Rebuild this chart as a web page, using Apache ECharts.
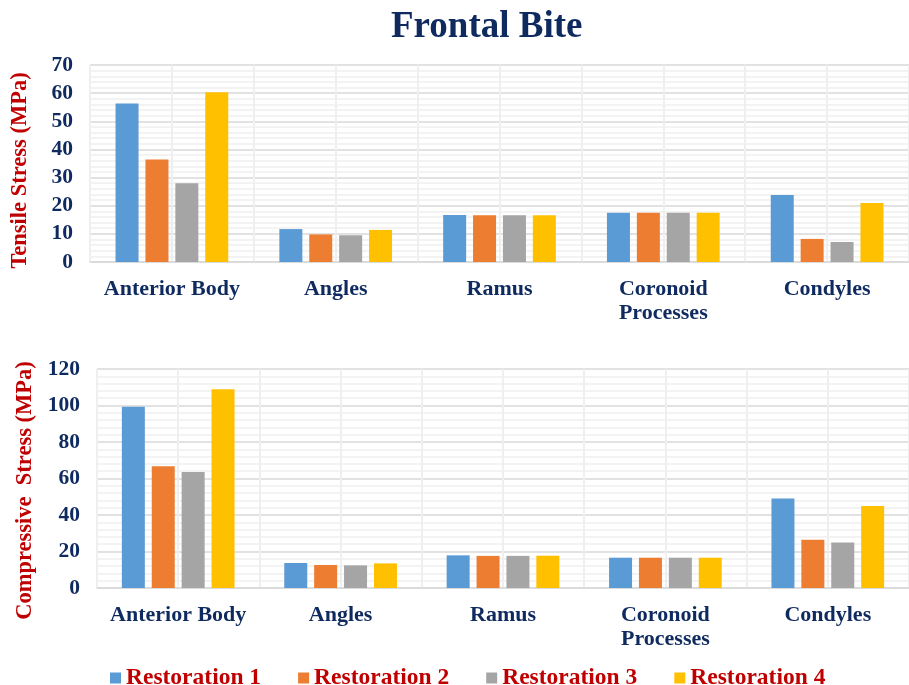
<!DOCTYPE html>
<html>
<head>
<meta charset="utf-8">
<script src="https://cdn.jsdelivr.net/npm/echarts@6/dist/echarts.min.js"></script>
<style>
  html, body { margin: 0; padding: 0; background: #fff; }
  #chart { width: 909px; height: 685px; }
</style>
</head>
<body>
<div id="chart"></div>
<script>
// Regions of the mandible
const regions = ['Anterior Body', 'Angles', 'Ramus', 'Coronoid\nProcesses', 'Condyles'];
const seriesNames = ['Restoration 1', 'Restoration 2', 'Restoration 3', 'Restoration 4'];
const colors = ['#5b9bd5', '#ed7d31', '#a5a5a5', '#ffc000'];

// Tensile stress (MPa) per restoration, in region order
const tensile1 = [56.3, 11.7, 16.7, 17.5, 23.8];
const tensile2 = [36.4, 9.8, 16.6, 17.5, 8.2];
const tensile3 = [28.0, 9.5, 16.6, 17.5, 7.1];
const tensile4 = [60.3, 11.4, 16.6, 17.5, 21.0];

// Compressive stress (MPa) per restoration, in region order
const compressive1 = [99.3, 13.7, 17.9, 16.6, 49.1];
const compressive2 = [66.7, 12.6, 17.6, 16.6, 26.5];
const compressive3 = [63.6, 12.4, 17.6, 16.6, 24.9];
const compressive4 = [108.9, 13.5, 17.7, 16.6, 44.9];

const tensileSets = [tensile1, tensile2, tensile3, tensile4];
const compressiveSets = [compressive1, compressive2, compressive3, compressive4];

const FONT = 'Liberation Serif';
const NAVY = '#0e2a5f';
const RED = '#c00000';

const chart = echarts.init(document.getElementById('chart'), null, { renderer: 'canvas' });

function categoryAxis(gridIndex) {
  return {
    type: 'category', gridIndex, data: regions,
    axisLine: { lineStyle: { color: '#d9d9d9', width: 1.5 } },
    axisTick: { show: false },
    splitLine: { show: false },
    axisLabel: {
      interval: 0, margin: 15, color: NAVY, fontFamily: FONT,
      fontWeight: 'bold', fontSize: 22, lineHeight: 24
    }
  };
}

// Helper axis that draws the vertical lines at half-category steps
function halfStepAxis(gridIndex) {
  return {
    type: 'value', gridIndex, min: 0, max: 10, interval: 1, position: 'top',
    axisLine: { show: false }, axisTick: { show: false }, axisLabel: { show: false },
    splitLine: { show: true, lineStyle: { color: '#efefef', width: 2 } }
  };
}

function valueAxis(gridIndex, max, interval, name, namePad) {
  return {
    type: 'value', gridIndex, min: 0, max, interval,
    name, nameLocation: 'middle', nameGap: 58,
    nameTextStyle: { color: RED, fontFamily: FONT, fontWeight: 'bold', fontSize: 22.5, padding: namePad },
    axisLine: { show: false }, axisTick: { show: false },
    axisLabel: { color: NAVY, fontFamily: FONT, fontWeight: 'bold', fontSize: 21.5, margin: 17 },
    splitLine: { show: true, lineStyle: { color: '#d9d9d9', width: 1.5 } },
    minorTick: { show: false, splitNumber: 5 },
    minorSplitLine: { show: true, lineStyle: { color: '#f0f0f0', width: 1.5 } }
  };
}

const series = [];
seriesNames.forEach((name, i) => {
  series.push({
    name, type: 'bar', xAxisIndex: 0, yAxisIndex: 0, data: tensileSets[i],
    barWidth: 23, barGap: '30%', itemStyle: { color: colors[i] }, z: 3
  });
});
seriesNames.forEach((name, i) => {
  series.push({
    name, type: 'bar', xAxisIndex: 1, yAxisIndex: 1, data: compressiveSets[i],
    barWidth: 23, barGap: '30%', itemStyle: { color: colors[i] }, z: 3
  });
});

chart.setOption({
  animation: false,
  backgroundColor: '#ffffff',
  color: colors,
  title: {
    text: 'Frontal Bite', left: 386, top: 4,
    textStyle: { color: NAVY, fontFamily: FONT, fontWeight: 'bold', fontSize: 37 }
  },
  legend: {
    data: seriesNames, left: 105, top: 661, itemWidth: 11, itemHeight: 11, itemGap: 37,
    icon: 'rect',
    textStyle: { color: RED, fontFamily: FONT, fontWeight: 'bold', fontSize: 23.5 }
  },
  grid: [
    { left: 90, right: -3, top: 65, height: 197 },
    { left: 97, right: -11, top: 369, height: 219 }
  ],
  xAxis: [categoryAxis(0), categoryAxis(1), halfStepAxis(0), halfStepAxis(1)],
  yAxis: [
    valueAxis(0, 70, 10, 'Tensile Stress (MPa)', [0, 14, 0, 0]),
    valueAxis(1, 120, 20, 'Compressive  Stress (MPa)', [0, 24, 0, 0])
  ],
  series
});
</script>
</body>
</html>
